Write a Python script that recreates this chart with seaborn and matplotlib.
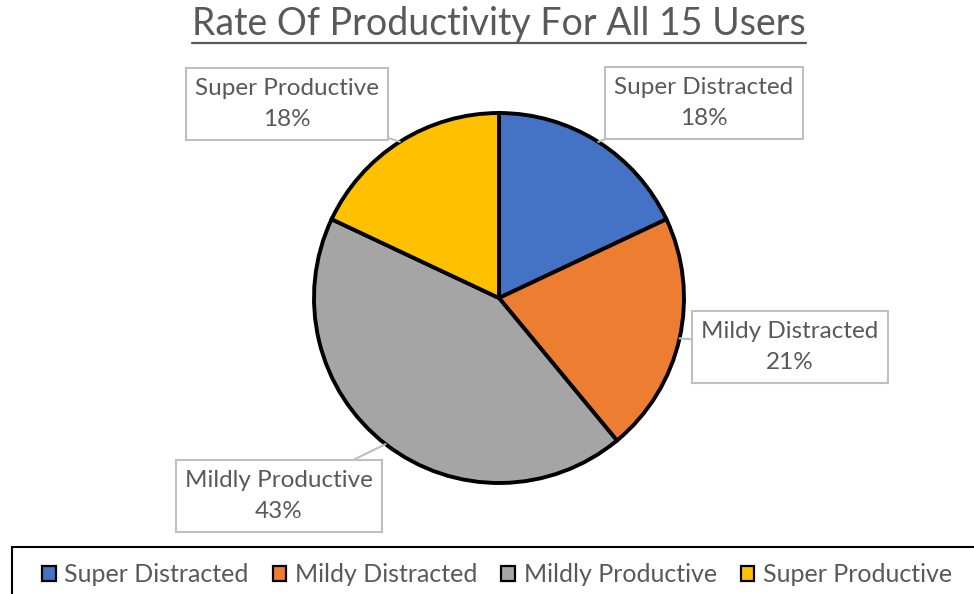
import matplotlib
matplotlib.use("Agg")
import matplotlib.pyplot as plt
from matplotlib.patches import Patch, Rectangle
from matplotlib.lines import Line2D
import numpy as np
import seaborn as sns

# Share of users per productivity level (percent)
categories = ["Super Distracted", "Mildy Distracted", "Mildly Productive", "Super Productive"]
shares = [18, 21, 43, 18]
colors = ["#4472C4", "#ED7D31", "#A5A5A5", "#FFC000"]

# label box centres in pixel space (x from left, y from bottom)
box_pos = [(704, 491), (790, 247), (279, 98), (287, 490)]

sns.set_theme(style="white")
plt.rcParams['font.family'] = ['Lato', 'DejaVu Sans']
text_grey = "#595959"

fig = plt.figure(figsize=(9.74, 5.94), dpi=100)
ax = fig.add_axes([0, 0, 1, 1])

cx, cy, r = 499, 296, 185
wedges, _ = ax.pie(shares, colors=colors, startangle=90, counterclock=False,
                   center=(cx, cy), radius=r,
                   wedgeprops=dict(edgecolor="black", linewidth=2.8))
ax.set_xlim(0, 974)
ax.set_ylim(0, 594)
ax.set_aspect("equal")
ax.axis("off")

# callout labels pointing at the middle of each wedge
for w, cat, val, pos in zip(wedges, categories, shares, box_pos):
    ang = np.deg2rad((w.theta1 + w.theta2) / 2)
    px = cx + r * np.cos(ang)
    py = cy + r * np.sin(ang)
    ax.annotate(f"{cat}\n{val}%", xy=(px, py), xytext=pos,
                ha="center", va="center", fontsize=17.5, color=text_grey,
                linespacing=1.62, zorder=5,
                bbox=dict(boxstyle="square,pad=0.38", fc="white", ec="#bfbfbf", lw=1.5),
                arrowprops=dict(arrowstyle="-", color="#bfbfbf", lw=1.5,
                                shrinkA=0, shrinkB=0))

title = fig.text(0.512, 0.96, "Rate Of Productivity For All 15 Users",
                 ha="center", va="center", fontsize=27, color=text_grey)

# legend along the bottom, inside a black box that runs off the edge
fig.add_artist(Rectangle((12 / 974, -0.1), 1.1, 47 / 594 + 0.1,
                         transform=fig.transFigure, fill=False,
                         edgecolor="black", linewidth=1.5))
handles = [Patch(facecolor=c, edgecolor="black", linewidth=1.6) for c in colors]
leg = fig.legend(handles, categories, loc="upper left",
                 bbox_to_anchor=((42 - 10) / 974, 41 / 594),
                 ncol=4, fontsize=18, frameon=False,
                 borderpad=0.4, handlelength=0.55, handleheight=0.55,
                 handletextpad=0.35, columnspacing=0.95, borderaxespad=0)
for t in leg.get_texts():
    t.set_color(text_grey)

# underline the title
fig.canvas.draw()
bb = title.get_window_extent()
y_line = bb.y0 - 1
fig.add_artist(Line2D([bb.x0, bb.x1], [y_line, y_line], transform=None,
                      color=text_grey, lw=1.6))

fig.savefig("out.png", dpi=100)
